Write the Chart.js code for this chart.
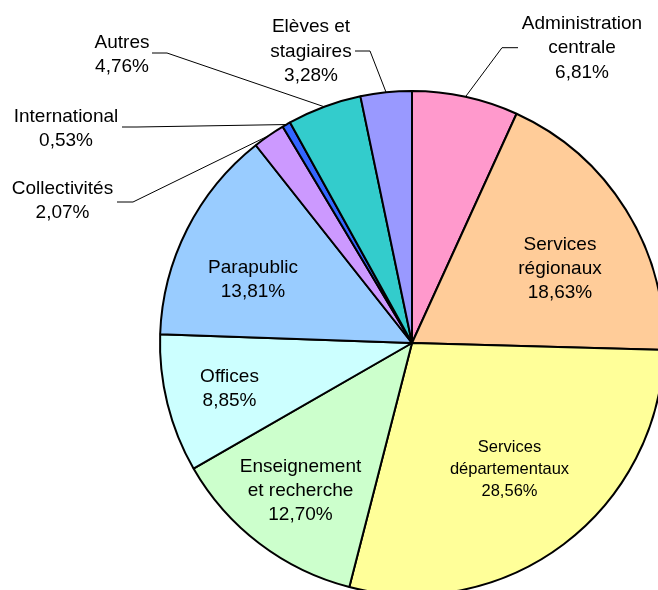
<!DOCTYPE html>
<html>
<head>
<meta charset="utf-8">
<script src="https://cdn.jsdelivr.net/npm/chart.js@4.4.0/dist/chart.umd.min.js"></script>
<style>
  html, body { margin: 0; padding: 0; background: #fff; overflow: hidden; }
  #wrap { width: 658px; height: 590px; position: relative; }
</style>
</head>
<body>
<div id="wrap"><canvas id="c"></canvas></div>
<script>
// ---- data ----
const categories = [
  'Administration centrale', 'Services régionaux', 'Services départementaux',
  'Enseignement et recherche', 'Offices', 'Parapublic', 'Collectivités',
  'International', 'Autres', 'Elèves et stagiaires'
];
const labelLines = [
  ['Administration', 'centrale'], ['Services', 'régionaux'], ['Services', 'départementaux'],
  ['Enseignement', 'et recherche'], ['Offices'], ['Parapublic'], ['Collectivités'],
  ['International'], ['Autres'], ['Elèves et', 'stagiaires']
];
const values = [6.81, 18.63, 28.56, 12.70, 8.85, 13.81, 2.07, 0.53, 4.76, 3.28];
const colors = ['#FF99CC', '#FFCC99', '#FFFF99', '#CCFFCC', '#CCFFFF', '#99CCFF', '#CC99FF', '#3366FF', '#33CCCC', '#9999FF'];

// ---- label layout (offsets from pie centre, px) ----
const labelLayout = [
  { dx: 170,    dy: -296.5, size: 19,   lh: 24.3, leader: [106, -295.3, 90, -295.3] },
  { dx: 148,    dy: -75.8,  size: 19,   lh: 24.3 },
  { dx: 97.5,   dy: 125.1,  size: 16.5, lh: 22.3 },
  { dx: -111.5, dy: 146.2,  size: 19,   lh: 24.3 },
  { dx: -182.5, dy: 44.4,   size: 19,   lh: 24.3 },
  { dx: -159,   dy: -65,    size: 19,   lh: 24.3 },
  { dx: -349.5, dy: -144,   size: 19,   lh: 24.3, leader: [-295, -141, -279, -141] },
  { dx: -346,   dy: -216,   size: 19,   lh: 24.3, leader: [-290, -216, -275, -216] },
  { dx: -290,   dy: -290.1, size: 19,   lh: 24.3, leader: [-260, -290, -245, -290] },
  { dx: -101,   dy: -293.1, size: 19,   lh: 24.3, leader: [-57, -292, -42, -292] }
];

function fmtPct(v) { return v.toFixed(2).replace('.', ',') + '%'; }

const labelPlugin = {
  id: 'sliceLabels',
  afterDatasetsDraw(chart) {
    const ctx = chart.ctx;
    const meta = chart.getDatasetMeta(0);
    ctx.save();
    meta.data.forEach((arc, i) => {
      const lay = labelLayout[i];
      const p = arc.getProps(['x', 'y', 'startAngle', 'endAngle', 'outerRadius'], true);
      const cx = p.x, cy = p.y;
      if (lay.leader) {
        const mid = (p.startAngle + p.endAngle) / 2;
        const px = cx + Math.cos(mid) * p.outerRadius;
        const py = cy + Math.sin(mid) * p.outerRadius;
        ctx.strokeStyle = '#000';
        ctx.lineWidth = 1;
        ctx.beginPath();
        ctx.moveTo(cx + lay.leader[0], cy + lay.leader[1]);
        ctx.lineTo(cx + lay.leader[2], cy + lay.leader[3]);
        ctx.lineTo(px, py);
        ctx.stroke();
      }
      const lines = labelLines[i].concat([fmtPct(values[i])]);
      const fs = lay.size;
      ctx.font = fs + 'px "Liberation Sans", Arial, sans-serif';
      ctx.fillStyle = '#000';
      ctx.textAlign = 'center';
      ctx.textBaseline = 'alphabetic';
      const tx = cx + lay.dx, ty = cy + lay.dy;
      const n = lines.length;
      lines.forEach((ln, k) => {
        const by = ty + (k - (n - 1) / 2) * lay.lh + fs * 0.716 / 2;
        ctx.fillText(ln, tx, by);
      });
    });
    ctx.restore();
  }
};

new Chart(document.getElementById('c'), {
  type: 'pie',
  data: {
    labels: categories,
    datasets: [{
      data: values,
      backgroundColor: colors,
      borderColor: '#000',
      borderWidth: 2,
      hoverBorderWidth: 2,
      radius: 252,
      clip: false
    }]
  },
  options: {
    responsive: true,
    maintainAspectRatio: false,
    animation: false,
    layout: { padding: { left: 166, top: 96, right: 0, bottom: 0 } },
    plugins: {
      legend: { display: false },
      tooltip: { enabled: false }
    },
    events: []
  },
  plugins: [labelPlugin]
});
</script>
</body>
</html>
